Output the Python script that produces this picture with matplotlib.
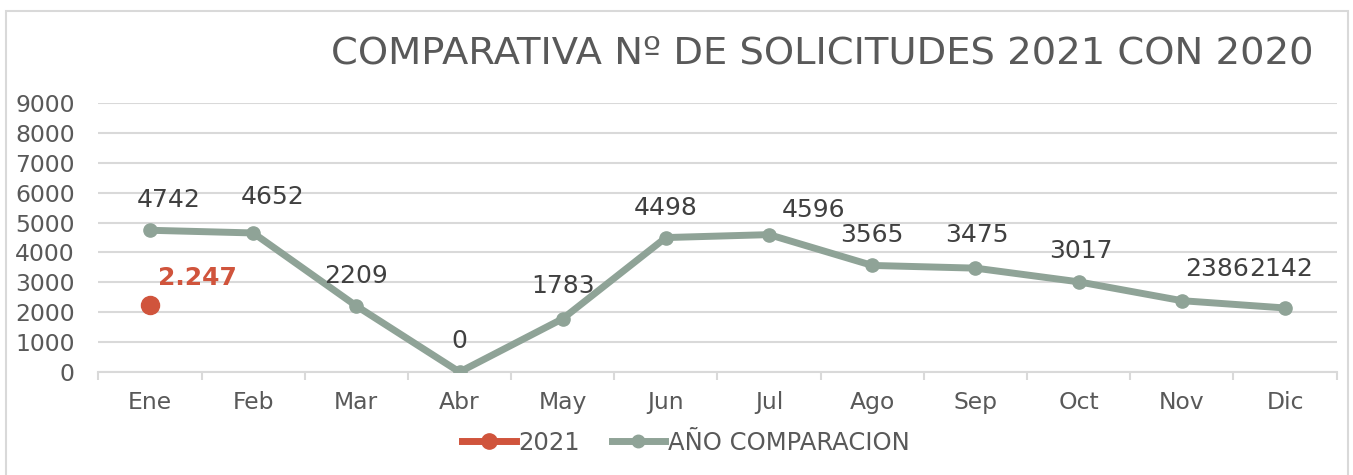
import matplotlib
matplotlib.use("Agg")
import matplotlib.pyplot as plt
from matplotlib.patches import Rectangle
from matplotlib.lines import Line2D

months = ["Ene", "Feb", "Mar", "Abr", "May", "Jun", "Jul", "Ago", "Sep", "Oct", "Nov", "Dic"]
comparacion = [4742, 4652, 2209, 0, 1783, 4498, 4596, 3565, 3475, 3017, 2386, 2142]
y2021 = [2247]
label_2021 = "2.247"
yticks = [0, 1000, 2000, 3000, 4000, 5000, 6000, 7000, 8000, 9000]

# label offsets in pixels (dx, dy)
label_offsets = [(19, 30), (19, 36), (0, 30), (0, 31), (0, 33), (0, 30),
                 (44, 25), (0, 30), (1, 33), (2, 31), (35, 32), (-4, 39)]

W, H = 1353, 475
fig = plt.figure(figsize=(W / 100, H / 100), dpi=100)
plt.rcParams['font.family'] = ['DejaVu Sans']

# chart frame
fig.patches.append(Rectangle((6 / W, -0.05), (1348 - 6) / W, (H - 11) / H + 0.05,
                             transform=fig.transFigure, fill=False,
                             edgecolor="#D9D9D9", linewidth=1.5))

ax = fig.add_axes([98.4 / W, (H - 372) / H, (1336.6 - 98.4) / W, (372 - 103) / H])

gray_line = "#8FA397"
red = "#D0543C"
text_col = "#595959"
lab_col = "#404040"
fs_tick = 16.9
fs_lab = 18

x = list(range(len(months)))
ax.plot(x, comparacion, color=gray_line, linewidth=5, marker="o", markersize=9.5,
        solid_capstyle="round", zorder=3)
ax.plot([0], y2021, color=red, linewidth=0, marker="o", markersize=13, zorder=4)

for i, v in enumerate(comparacion):
    dx, dy = label_offsets[i]
    ax.annotate(str(v), (i, v), xytext=(dx * 0.72, dy * 0.72), textcoords="offset points",
                ha="center", va="center", fontsize=fs_lab, color=lab_col, zorder=5)
ax.annotate(label_2021, (0, y2021[0]), xytext=(47 * 0.72, 27 * 0.72), textcoords="offset points",
            ha="center", va="center", fontsize=fs_lab, color=red, fontweight="bold", zorder=5)

ax.set_xlim(-0.5, len(months) - 0.5)
ax.set_ylim(0, 9000)
ax.set_yticks(yticks)
ax.set_yticklabels([str(t) for t in yticks])
ax.set_xticks(x)
ax.set_xticklabels(months)
ax.tick_params(axis="y", length=0, pad=17, labelsize=fs_tick, labelcolor=text_col)
ax.tick_params(axis="x", length=0, pad=14, labelsize=fs_tick, labelcolor=text_col)
ax.set_xticks([i - 0.5 for i in range(len(months) + 1)], minor=True)
ax.tick_params(axis="x", which="minor", length=6, width=1.5, color="#D9D9D9", direction="out")

ax.grid(axis="y", color="#D9D9D9", linewidth=1.5, zorder=0)
ax.set_axisbelow(True)
for s in ["top", "right", "left"]:
    ax.spines[s].set_visible(False)
ax.spines["bottom"].set_color("#D9D9D9")
ax.spines["bottom"].set_linewidth(1.5)

fig.text(822 / W, (H - 54) / H, "COMPARATIVA Nº DE SOLICITUDES 2021 CON 2020",
         ha="center", va="center", fontsize=27.7, color=text_col)

handles = [Line2D([], [], color=red, linewidth=5, marker="o", markersize=11),
           Line2D([], [], color=gray_line, linewidth=5, marker="o", markersize=9)]
fig.legend(handles, ["2021", "AÑO COMPARACION"], loc="center", bbox_to_anchor=(686 / W, 32 / H),
           ncol=2, frameon=False, fontsize=17.5, labelcolor=text_col, handlelength=2.2,
           handletextpad=0.12, columnspacing=1.3)

fig.savefig("out.png", dpi=100)
